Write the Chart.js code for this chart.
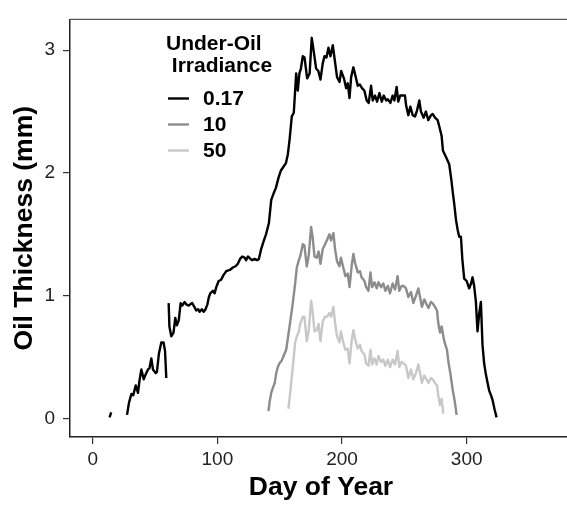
<!DOCTYPE html>
<html>
<head>
<meta charset="utf-8">
<script src="https://cdn.jsdelivr.net/npm/chart.js@4.4.0/dist/chart.umd.min.js"></script>
<style>
  html, body { margin: 0; padding: 0; background: #fff; overflow: hidden; }
</style>
</head>
<body>
<canvas id="oilChart" width="572" height="506"></canvas>
<script>
// tick labels
const xTicks = [0, 100, 200, 300];
const yTicks = [0, 1, 2, 3];

// legend
const legendTitle = ['Under-Oil', ' Irradiance'];
const seriesLabels = ['0.17', '10', '50'];

// under-oil irradiance 0.17 (null = gap in the record)
const lowDays = [
  13.5, 14.8, 20, 27.5, 29.1, 31, 32.5, 34.5, 36.3, 37.5,
  39, 40.9, 42.5, 44.3, 45.5, 47, 48.3, 50.5, 51.5, 53.1,
  55, 56.8, 58, 59, 60, 60.9, 61.5, 63, 64.8, 66.2,
  67.5, 69, 70.5, 71.8, 73.7, 75, 77, 78.2, 79.8, 81.5,
  83, 84.5, 85.8, 87.5, 89, 90.5, 92, 93.2, 94.3, 96.4,
  97.8, 99.1, 101, 103, 105, 107.1, 110, 112.4, 114.5, 116.4,
  118.2, 119.9, 121.8, 123, 124.5, 126.5, 128, 129.8, 131.8, 133.3,
  135.1, 137, 139, 141.3, 143.2, 145, 147, 149, 151, 153,
  155, 156.5, 157.9, 159.7, 161.3, 163.2, 164.5, 165.8, 167, 168.5,
  169.9, 172, 174, 175.7, 177.3, 179.2, 181, 182.7, 184.5, 185.9,
  187.5, 189.1, 190.7, 192.6, 193.9, 196, 198, 199.3, 201.5, 203.3,
  204.6, 206, 207.3, 209.1, 210.8, 212.6, 214.3, 216, 217.9, 219.8,
  221.4, 223.3, 224.6, 226.5, 228.1, 230, 231.9, 233.5, 235.4, 236.7,
  238.8, 240.6, 242, 243.8, 245.1, 246.7, 248.6, 250.5, 251.4, 253.2,
  254.8, 256.7, 258.6, 260.2, 262, 263.3, 265.5, 267.3, 269.2, 271.4,
  272.7, 274.6, 276.7, 278, 279.9, 281, 283.4, 286, 287.5, 289,
  290, 291.4, 292.7, 294, 295.4, 296.5, 298, 300, 302, 303.5,
  304.7, 306, 307.4, 308.7, 310, 311.4, 312.7, 314, 315.4, 317,
  318, 319.5, 320.8, 322.5, 324
];
const lowMm = [
  0.01, 0.05, null, 0.03, 0.13, 0.20, 0.19, 0.27, 0.21, 0.31,
  0.40, 0.32, 0.36, 0.40, 0.41, 0.49, 0.40, 0.37, 0.38, 0.53,
  0.62, 0.62, 0.55, 0.33, null, 0.94, 0.75, 0.67, 0.70, 0.82,
  0.76, 0.80, 0.94, 0.92, 0.95, 0.93, 0.92, 0.93, 0.94, 0.91,
  0.88, 0.89, 0.87, 0.89, 0.87, 0.89, 0.93, 0.99, 1.02, 1.04,
  1.02, 1.07, 1.12, 1.13, 1.17, 1.20, 1.21, 1.23, 1.24, 1.26,
  1.30, 1.32, 1.31, 1.29, 1.32, 1.30, 1.29, 1.30, 1.29, 1.30,
  1.38, 1.44, 1.50, 1.59, 1.78, 1.83, 1.88, 1.96, 2.02, 2.05,
  2.08, 2.15, 2.27, 2.46, 2.49, 2.81, 2.67, 2.81, 2.85, 2.95,
  2.94, 2.77, 2.81, 3.10, 2.99, 2.85, 2.83, 2.76, 2.89, 2.95,
  2.94, 3.02, 2.95, 3.04, 2.94, 2.78, 2.74, 2.83, 2.77, 2.69,
  2.73, 2.61, 2.78, 2.86, 2.79, 2.71, 2.72, 2.69, 2.67, 2.59,
  2.57, 2.71, 2.59, 2.63, 2.58, 2.65, 2.58, 2.63, 2.59, 2.60,
  2.57, 2.63, 2.59, 2.70, 2.58, 2.63, 2.63, 2.63, 2.55, 2.47,
  2.54, 2.47, 2.46, 2.51, 2.59, 2.50, 2.45, 2.50, 2.43, 2.47,
  2.48, 2.45, 2.43, 2.38, 2.30, 2.18, 2.13, 2.07, 1.96, 1.83,
  1.75, 1.62, 1.54, 1.48, 1.48, 1.30, 1.14, 1.12, 1.06, 1.10,
  1.15, 1.08, 0.95, 0.71, 0.85, 0.95, 0.60, 0.45, 0.36, 0.28,
  0.23, 0.19, 0.15, 0.07, 0.01
];

// under-oil irradiance 10
const midDays = [
  141, 141.8, 143.2, 144.5, 146, 147.2, 148.5, 149.8, 151.5, 153.5,
  155.2, 157.9, 160.5, 162.4, 163.7, 165.1, 166.7, 168.5, 169.8, 171.7,
  173.3, 175.2, 176.5, 177.9, 179.7, 181.2, 182.7, 184.5, 186.4, 188.2,
  189.9, 191.2, 193.1, 194.4, 196, 197.9, 199.1, 201, 202.7, 204.6,
  206, 207.8, 209.1, 210.4, 212.6, 214.4, 215.7, 218, 219.3, 221.2,
  222.8, 224.1, 226, 227.8, 229.2, 231.3, 233.1, 234.8, 236.7, 238.5,
  240.6, 242.5, 244.6, 245.9, 247.8, 249.4, 251.3, 253.2, 255.3, 257.2,
  259.3, 261.2, 262.8, 264.1, 266, 267.8, 269.4, 271.3, 272.6, 274.6,
  276.2, 277.2, 278.6, 279.9, 282, 284.2, 285.5, 286.9, 288.7, 290.6,
  291.9
];
const midMm = [
  0.06, 0.13, 0.21, 0.25, 0.29, 0.37, 0.42, 0.45, 0.47, 0.52,
  0.56, 0.75, 0.94, 1.10, 1.23, 1.28, 1.33, 1.42, 1.41, 1.24,
  1.33, 1.56, 1.47, 1.32, 1.31, 1.36, 1.26, 1.38, 1.42, 1.46,
  1.50, 1.45, 1.51, 1.38, 1.28, 1.24, 1.31, 1.23, 1.16, 1.18,
  1.07, 1.25, 1.34, 1.27, 1.19, 1.20, 1.15, 1.12, 1.07, 1.04,
  1.19, 1.07, 1.11, 1.06, 1.11, 1.07, 1.10, 1.04, 1.08, 1.02,
  1.10, 1.05, 1.16, 1.04, 1.08, 1.08, 1.06, 0.99, 1.03, 0.94,
  1.00, 1.06, 0.98, 0.91, 0.97, 0.93, 0.90, 0.95, 0.94, 0.91,
  0.88, 0.78, 0.70, 0.75, 0.63, 0.56, 0.45, 0.37, 0.24, 0.13,
  0.03
];

// under-oil irradiance 50
const highDays = [
  157, 158.7, 160.5, 162.4, 163.7, 165.1, 166.7, 168.5, 169.8, 171.7,
  173.3, 175.2, 176.5, 177.9, 179.7, 181.2, 182.7, 184.5, 186.4, 188.2,
  189.9, 191.2, 193.1, 194.4, 196, 197.9, 199.1, 201, 202.7, 204.6,
  206, 207.8, 209.1, 210.4, 212.6, 214.4, 215.7, 218, 219.3, 221.2,
  222.8, 224.1, 226, 227.8, 229.2, 231.3, 233.1, 234.8, 236.7, 238.5,
  240.6, 242.5, 244.6, 245.9, 247.8, 249.4, 251.3, 253.2, 255.3, 257.2,
  259.3, 261.2, 262.8, 264.1, 266, 267.8, 269.4, 271.3, 272.6, 274.6,
  276.2, 277.2, 278.6, 279.9, 281.2
];
const highMm = [
  0.08, 0.24, 0.42, 0.62, 0.67, 0.70, 0.78, 0.83, 0.83, 0.63,
  0.72, 0.96, 0.86, 0.71, 0.72, 0.77, 0.63, 0.79, 0.83, 0.83,
  0.86, 0.83, 0.91, 0.78, 0.67, 0.62, 0.71, 0.62, 0.56, 0.57,
  0.45, 0.64, 0.72, 0.65, 0.57, 0.60, 0.55, 0.52, 0.45, 0.43,
  0.56, 0.44, 0.49, 0.44, 0.51, 0.46, 0.48, 0.43, 0.48, 0.42,
  0.48, 0.44, 0.55, 0.42, 0.46, 0.45, 0.43, 0.33, 0.40, 0.32,
  0.37, 0.44, 0.36, 0.29, 0.35, 0.32, 0.29, 0.33, 0.32, 0.29,
  0.27, 0.19, 0.11, 0.16, 0.04
];

const FONT = "'Liberation Sans', Arial, sans-serif";

function toPoints(days, mm) {
  return days.map((d, i) => ({ x: d, y: mm[i] }));
}

// ggplot style legend inside the panel + grey top border
const panelExtras = {
  id: 'panelExtras',
  afterDraw(chart) {
    const ctx = chart.ctx;
    const area = chart.chartArea;
    ctx.save();
    ctx.strokeStyle = '#555';
    ctx.lineWidth = 1.2;
    ctx.beginPath();
    ctx.moveTo(area.left, area.top);
    ctx.lineTo(area.right, area.top);
    ctx.stroke();

    ctx.fillStyle = '#000';
    ctx.font = 'bold 21px ' + FONT;
    ctx.textAlign = 'left';
    ctx.textBaseline = 'alphabetic';
    ctx.fillText(legendTitle[0], 166, 49.5);
    ctx.fillText(legendTitle[1], 166, 71.5);

    ctx.textBaseline = 'middle';
    chart.data.datasets.forEach((ds, i) => {
      const y = 98.5 + i * 26;
      ctx.strokeStyle = ds.borderColor;
      ctx.lineWidth = ds.borderWidth;
      ctx.beginPath();
      ctx.moveTo(168, y);
      ctx.lineTo(189, y);
      ctx.stroke();
      ctx.fillStyle = '#000';
      ctx.fillText(ds.label, 203, y + 0.5);
    });
    ctx.restore();
  }
};

const ctx = document.getElementById('oilChart').getContext('2d');
const oilChart = new Chart(ctx, {
  type: 'line',
  data: {
    datasets: [
      { label: seriesLabels[0], data: toPoints(lowDays, lowMm), borderColor: '#000000', borderWidth: 2.4 },
      { label: seriesLabels[1], data: toPoints(midDays, midMm), borderColor: '#8c8c8c', borderWidth: 2.4 },
      { label: seriesLabels[2], data: toPoints(highDays, highMm), borderColor: '#c8c8c8', borderWidth: 2.4 }
    ]
  },
  options: {
    responsive: false,
    animation: false,
    devicePixelRatio: 1,
    spanGaps: false,
    elements: {
      point: { radius: 0, hoverRadius: 0 },
      line: { tension: 0, borderJoinStyle: 'round', borderCapStyle: 'butt' }
    },
    layout: { padding: { top: 13, left: 0, right: 0, bottom: 0 } },
    plugins: { legend: { display: false }, tooltip: { enabled: false } },
    scales: {
      x: {
        type: 'linear',
        min: -18.25,
        max: 384.5,
        afterBuildTicks: s => { s.ticks = xTicks.map(v => ({ value: v })); },
        afterFit: s => { s.height = 69; },
        ticks: { font: { family: FONT, size: 19 }, color: '#222', padding: 4, maxRotation: 0 },
        grid: { drawOnChartArea: false, drawTicks: true, tickLength: 7, color: '#333', lineWidth: 1.2 },
        border: { display: true, color: '#222', width: 1.5 },
        title: {
          display: true, text: 'Day of Year', color: '#000',
          font: { family: FONT, size: 26.5, weight: 'bold', lineHeight: 1 },
          padding: { top: 0, bottom: 5.2 }
        }
      },
      y: {
        type: 'linear',
        min: -0.15,
        max: 3.25,
        afterBuildTicks: s => { s.ticks = yTicks.map(v => ({ value: v })); },
        afterFit: s => { s.width = 70; },
        ticks: { font: { family: FONT, size: 19 }, color: '#222', padding: 8 },
        grid: { drawOnChartArea: false, drawTicks: true, tickLength: 7, color: '#333', lineWidth: 1.2 },
        border: { display: true, color: '#222', width: 1.5 },
        title: {
          display: true, text: 'Oil Thickness (mm)', color: '#000',
          font: { family: FONT, size: 26.5, weight: 'bold', lineHeight: 1 },
          padding: { top: 11, bottom: 0 }
        }
      }
    }
  },
  plugins: [panelExtras]
});
</script>
</body>
</html>
